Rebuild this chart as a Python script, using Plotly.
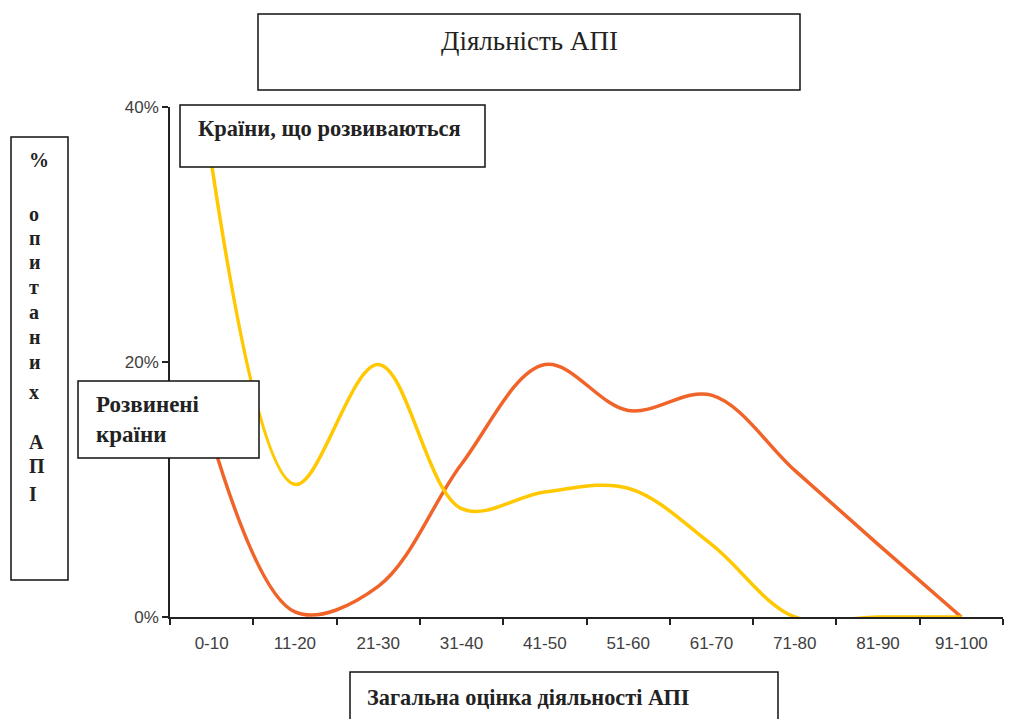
import plotly.graph_objects as go

categories = ["0-10", "11-20", "21-30", "31-40", "41-50", "51-60", "61-70", "71-80", "81-90", "91-100"]
developing = [35.5, 10.4, 19.8, 8.5, 9.8, 10.1, 5.7, 0, 0, 0]
developed = [14.0, 0.4, 2.4, 12.0, 19.8, 16.2, 17.4, 11.5, 5.7, 0]
y_ticks = [0, 20, 40]
y_ticktext = ["0%", "20%", "40%"]

W, H = 1032, 719


def px(x):
    return x / W


def py(y):
    return 1 - y / H


fig = go.Figure()
fig.add_trace(go.Scatter(x=categories, y=developed, mode="lines",
                         line=dict(color="#F0642A", width=3.5, shape="spline", smoothing=1.0),
                         name="Розвинені країни", showlegend=False, hoverinfo="x+y"))
fig.add_trace(go.Scatter(x=categories, y=developing, mode="lines",
                         line=dict(color="#FFC800", width=3.5, shape="spline", smoothing=1.0),
                         name="Країни, що розвиваються", showlegend=False, hoverinfo="x+y"))

serif = "Liberation Serif, Times New Roman, serif"
sans = "Liberation Sans, Arial, sans-serif"

boxes = [
    (258, 14, 800, 90),
    (180, 105, 485, 167),
    (78, 381, 259, 458),
    (11, 137, 68, 580),
    (350, 672, 778, 722),
]
shapes = []
for (x0, y0, x1, y1) in boxes:
    shapes.append(dict(type="rect", xref="paper", yref="paper",
                       x0=px(x0), x1=px(x1), y0=py(y1), y1=py(y0),
                       line=dict(color="#111111", width=1.5), fillcolor="white", layer="above"))

annotations = [
    dict(text="Діяльність АПІ", x=px(529), y=py(41), xref="paper", yref="paper",
         showarrow=False, font=dict(family=serif, size=27, color="#222222"),
         xanchor="center", yanchor="middle"),
    dict(text="<b>Країни, що розвиваються</b>", x=px(196), y=py(129), xref="paper", yref="paper",
         showarrow=False, font=dict(family=serif, size=22.5, color="#222222"),
         xanchor="left", yanchor="middle"),
    dict(text="<b>Розвинені<br>країни</b>", x=px(94), y=py(419), xref="paper", yref="paper",
         showarrow=False, font=dict(family=serif, size=23, color="#222222"),
         xanchor="left", yanchor="middle", align="left"),
    dict(text="<b>Загальна оцінка діяльності АПІ</b>", x=px(365), y=py(697), xref="paper", yref="paper",
         showarrow=False, font=dict(family=serif, size=22.3, color="#222222"),
         xanchor="left", yanchor="middle"),
]

ylabel_letters = [("%", 160), ("о", 214), ("п", 238), ("и", 262), ("т", 287), ("а", 312),
                  ("н", 337), ("и", 362), ("х", 392), ("А", 442), ("П", 466), ("І", 494)]
for ch, yy in ylabel_letters:
    annotations.append(dict(text="<b>" + ch + "</b>", x=px(27), y=py(yy), xref="paper", yref="paper",
                            showarrow=False, font=dict(family=serif, size=20, color="#222222"),
                            xanchor="left", yanchor="middle"))

fig.update_layout(
    autosize=True,
    margin=dict(l=0, r=0, t=0, b=0, pad=0, autoexpand=False),
    paper_bgcolor="white", plot_bgcolor="white",
    shapes=shapes, annotations=annotations,
    xaxis=dict(domain=[px(170), px(1003)], type="category", tickson="boundaries",
               range=[-0.5, 9.5], automargin=False, ticklabelstandoff=10,
               showline=True, linecolor="#222222", linewidth=1.5,
               ticks="outside", ticklen=6, tickcolor="#222222", tickwidth=1.5,
               showgrid=False, zeroline=False,
               tickfont=dict(family=sans, size=17, color="#404040")),
    yaxis=dict(domain=[py(617), py(107)], range=[0, 40], tickvals=y_ticks, ticktext=y_ticktext,
               automargin=False,
               showline=True, linecolor="#222222", linewidth=1.5,
               ticks="outside", ticklen=6, tickcolor="#222222", tickwidth=1.5,
               showgrid=False, zeroline=False,
               tickfont=dict(family=sans, size=17, color="#404040")),
)

fig.write_html("out.html", default_width="1032px",
               default_height="719px;position:absolute;top:0;left:0",
               config={"displayModeBar": False, "responsive": True})
